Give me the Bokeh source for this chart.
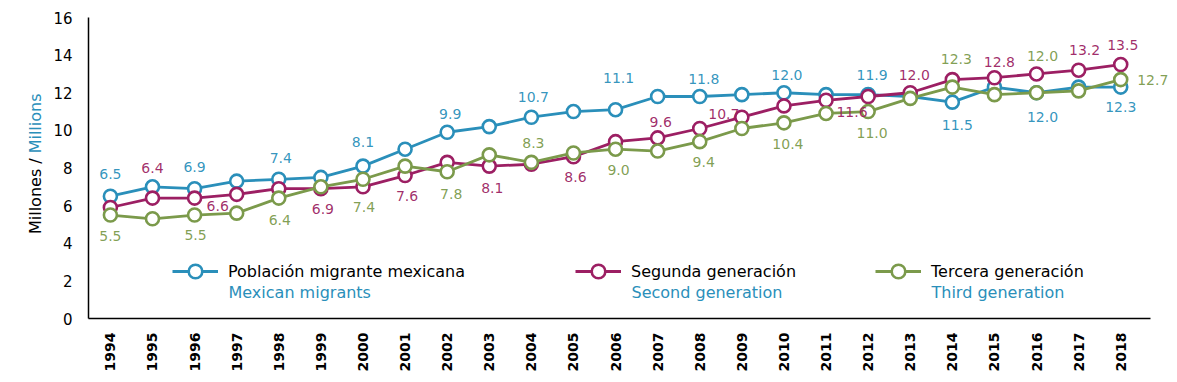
import math
from bokeh.plotting import figure
from bokeh.layouts import row
from bokeh.models import (ColumnDataSource, Legend, LegendItem, Label, Range1d,
                          FixedTicker)
from bokeh.embed import file_html
from bokeh.resources import INLINE
from bokeh.core.properties import value

# ---------------- data ----------------
years = list(range(1994, 2019))
mexican = [6.5, 7.0, 6.9, 7.3, 7.4, 7.5, 8.1, 9.0, 9.9, 10.2, 10.7, 11.0, 11.1,
           11.8, 11.8, 11.9, 12.0, 11.9, 11.9, 11.8, 11.5, 12.3, 12.0, 12.3, 12.3]
second = [5.9, 6.4, 6.4, 6.6, 6.9, 6.9, 7.0, 7.6, 8.3, 8.1, 8.2, 8.6, 9.4,
          9.6, 10.1, 10.7, 11.3, 11.6, 11.8, 12.0, 12.7, 12.8, 13.0, 13.2, 13.5]
third = [5.5, 5.3, 5.5, 5.6, 6.4, 7.0, 7.4, 8.1, 7.8, 8.7, 8.3, 8.8, 9.0,
         8.9, 9.4, 10.1, 10.4, 10.9, 11.0, 11.7, 12.3, 11.9, 12.0, 12.1, 12.7]

series_es = ["Población migrante mexicana", "Segunda generación", "Tercera generación"]
series_en = ["Mexican migrants", "Second generation", "Third generation"]
y_ticks = [0, 2, 4, 6, 8, 10, 12, 14, 16]
y_title_es = "Millones /"
y_title_en = "Millions"

# years that carry a value label, with the label's pixel offset (dx, dy; dy>0 = down)
mex_label_years = [1994, 1996, 1998, 2000, 2002, 2004, 2006, 2008, 2010, 2012, 2014, 2016, 2018]
mex_label_off = [(0, -22), (0, -22), (2, -21), (0, -24), (3, -18), (2, -20), (3, -32),
                 (4, -18), (3, -18), (4, -20), (5, 23), (6, 24), (0, 20)]
sec_label_years = [1995, 1997, 1999, 2001, 2003, 2005, 2007, 2009, 2011, 2013, 2015, 2017, 2018]
sec_label_off = [(0, -30), (-19, 12), (2, 20), (2, 20), (3, 22), (2, 20), (3, -16),
                 (-18, -3), (26, 12), (4, -18), (5, -16), (6, -20), (2, -20)]
thi_label_years = [1994, 1996, 1998, 2000, 2002, 2004, 2006, 2008, 2010, 2012, 2014, 2016, 2018]
thi_label_off = [(0, 21), (1, 20), (1, 22), (1, 28), (4, 22), (2, -19), (3, 21),
                 (4, 20), (4, 21), (4, 21), (4, -28), (6, -37), (32, 0)]

BLUE = "#2a8fba"
PURPLE = "#9c1f63"
GREEN = "#7b9a4b"
FONT = "DejaVu Sans"

TOP, BOTTOM = 17, 54
H = 374

# ---------- narrow panel holding the two-colour y title ----------
t = figure(width=50, height=H, output_backend="svg", toolbar_location=None,
           x_range=Range1d(0, 50), y_range=Range1d(0, 16),
           x_axis_type=None, y_axis_type=None,
           min_border_left=0, min_border_right=0, min_border_top=TOP,
           min_border_bottom=BOTTOM)
t.outline_line_color = None
t.grid.grid_line_color = None
t.text(x=[35], y=[4.49], text=[y_title_es], angle=math.pi / 2,
       text_align="left", text_baseline="middle", text_font=value(FONT),
       text_font_size="16px", text_color="black")
t.text(x=[35], y=[8.78], text=[y_title_en], angle=math.pi / 2,
       text_align="left", text_baseline="middle", text_font=value(FONT),
       text_font_size="16px", text_color=BLUE)

# ---------- main chart ----------
p = figure(width=1125, height=H, output_backend="svg", toolbar_location=None,
           x_range=Range1d(1993.48, 2019.23), y_range=Range1d(0, 16),
           min_border_left=38, min_border_right=3, min_border_top=TOP,
           min_border_bottom=BOTTOM)
p.outline_line_color = None
p.grid.grid_line_color = None

for ax in (p.xaxis, p.yaxis):
    ax.axis_line_color = "black"
    ax.axis_line_width = 1.5
    ax.major_tick_line_color = None
    ax.minor_tick_line_color = None
    ax.major_label_text_font = FONT
    ax.major_label_text_color = "black"
p.yaxis.ticker = FixedTicker(ticks=y_ticks)
p.yaxis.major_label_text_font_size = "15px"
p.yaxis.major_label_standoff = 10
p.xaxis.ticker = FixedTicker(ticks=years)
p.xaxis.bounds = (1993.48, 2018.71)
p.xaxis.major_label_orientation = math.pi / 2
p.xaxis.major_label_text_font_size = "14px"
p.xaxis.major_label_text_font_style = "bold"
p.xaxis.major_label_standoff = 8

renderers = []
for vals, col in ((mexican, BLUE), (second, PURPLE), (third, GREEN)):
    src = ColumnDataSource(dict(x=years, y=vals))
    l = p.line("x", "y", source=src, line_color=col, line_width=2.8)
    s = p.scatter("x", "y", source=src, size=13, marker="circle",
                  fill_color="white", line_color=col, line_width=2.6)
    renderers.append((l, s))

for vals, lyears, offs, col in ((mexican, mex_label_years, mex_label_off, BLUE),
                                (second, sec_label_years, sec_label_off, PURPLE),
                                (third, thi_label_years, thi_label_off, GREEN)):
    ys = [vals[years.index(yr)] for yr in lyears]
    src = ColumnDataSource(dict(x=lyears, y=ys, t=[f"{v:.1f}" for v in ys],
                                dx=[o[0] for o in offs], dy=[o[1] for o in offs]))
    p.text("x", "y", text="t", source=src, x_offset="dx", y_offset="dy",
           text_align="center", text_baseline="middle",
           text_font=value(FONT), text_font_size="14px", text_color=col,
           text_alpha=0.95)

leg_x = [84, 487, 787]
for i, (l, s) in enumerate(renderers):
    lg = Legend(items=[LegendItem(label=series_es[i], renderers=[l, s])],
                location=(leg_x[i], 30), orientation="horizontal",
                padding=0, margin=0, spacing=0,
                glyph_width=46, glyph_height=34, label_height=34,
                label_standoff=10, border_line_color=None,
                background_fill_alpha=0,
                label_text_font=FONT, label_text_font_size="16px",
                label_text_color="black")
    p.add_layout(lg)
    p.add_layout(Label(x=leg_x[i] + 56, y=26, x_units="screen", y_units="screen",
                       text=series_en[i], text_font=FONT, text_font_size="16px",
                       text_color=BLUE, text_baseline="middle", text_align="left"))

layout = row(t, p)
open("out.html", "w").write(file_html(layout, INLINE))
